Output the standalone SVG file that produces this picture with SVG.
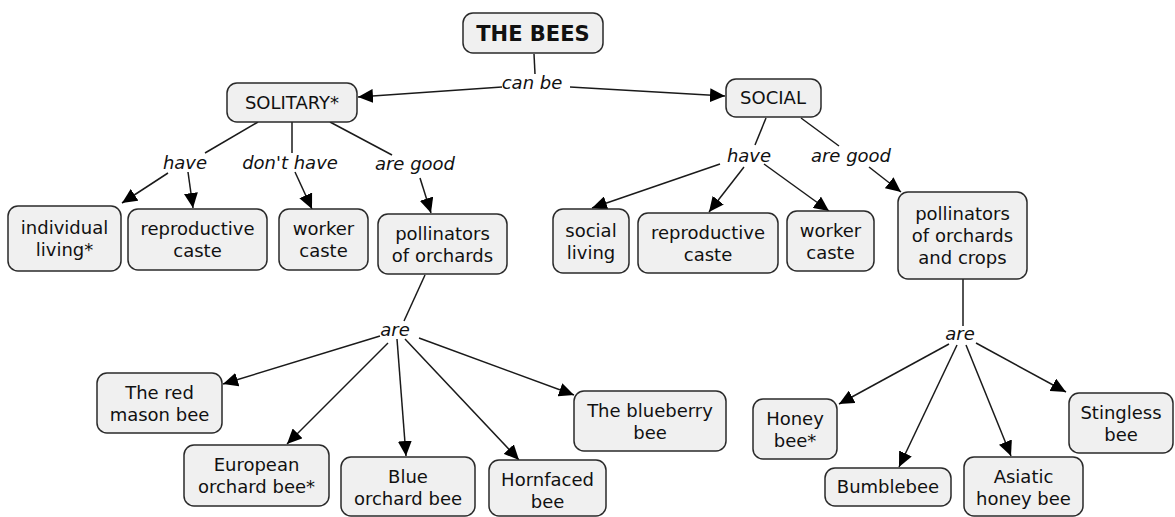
<svg xmlns="http://www.w3.org/2000/svg" width="1175" height="517" viewBox="0 0 1175 517">
<style>
.n rect{fill:#f0f0f0;stroke:#2a2a2a;stroke-width:1.5}
.n text{font-family:"DejaVu Sans",Verdana,sans-serif;font-size:18px;fill:#111;text-anchor:middle}
.t text{font-weight:bold;font-size:21px}
.lbl{font-family:"DejaVu Sans",Verdana,sans-serif;font-size:18px;font-style:italic;fill:#111;text-anchor:middle}
#connectors line{stroke:#1a1a1a;stroke-width:1.5;fill:none}
#connectors line.a{marker-end:url(#ah)}
</style>
<defs>
<marker id="ah" markerUnits="userSpaceOnUse" markerWidth="16" markerHeight="14" refX="15" refY="7" orient="auto">
<path d="M0,0 L15,7 L0,14 z" fill="#000"/>
</marker>
</defs>
<rect width="1175" height="517" fill="#fff"/>
<g id="connectors">
<line x1="534" y1="54" x2="535" y2="74"/>
<line class="a" x1="502" y1="87" x2="358" y2="97"/>
<line class="a" x1="570" y1="87" x2="725" y2="96"/>
<line x1="258" y1="122" x2="205" y2="153"/>
<line x1="292" y1="122" x2="292" y2="153"/>
<line x1="330" y1="122" x2="392" y2="155"/>
<line class="a" x1="168" y1="173" x2="122" y2="203"/>
<line class="a" x1="188" y1="172" x2="193" y2="208"/>
<line class="a" x1="295" y1="172" x2="312" y2="209"/>
<line class="a" x1="420" y1="178" x2="431" y2="213"/>
<line x1="766" y1="118" x2="755" y2="145"/>
<line x1="801" y1="118" x2="839" y2="146"/>
<line class="a" x1="720" y1="164" x2="592" y2="208"/>
<line class="a" x1="744" y1="167" x2="709" y2="212"/>
<line class="a" x1="764" y1="164" x2="829" y2="211"/>
<line class="a" x1="869" y1="167" x2="901" y2="192"/>
<line x1="425" y1="275" x2="404" y2="321"/>
<line class="a" x1="380" y1="336" x2="223" y2="384"/>
<line class="a" x1="388" y1="343" x2="287" y2="444"/>
<line class="a" x1="397" y1="339" x2="406" y2="456"/>
<line class="a" x1="405" y1="339" x2="519" y2="460"/>
<line class="a" x1="419" y1="338" x2="574" y2="395"/>
<line x1="963" y1="279" x2="963" y2="326"/>
<line class="a" x1="949" y1="344" x2="839" y2="404"/>
<line class="a" x1="957" y1="345" x2="899" y2="467"/>
<line class="a" x1="966" y1="345" x2="1011" y2="456"/>
<line class="a" x1="976" y1="343" x2="1066" y2="392"/>
</g>
<g id="labels">
<text class="lbl" x="532" y="89">can be</text>
<text class="lbl" x="185" y="169">have</text>
<text class="lbl" x="290" y="169">don't have</text>
<text class="lbl" x="415" y="170">are good</text>
<text class="lbl" x="749" y="162">have</text>
<text class="lbl" x="851" y="162">are good</text>
<text class="lbl" x="395" y="336">are</text>
<text class="lbl" x="960" y="340">are</text>
</g>
<g id="n-bees" class="n t"><rect x="463" y="13" width="140" height="40" rx="10"/><text x="533" y="41">THE BEES</text></g>
<g id="n-solitary" class="n"><rect x="227" y="83" width="130" height="39" rx="10"/><text x="292" y="109">SOLITARY*</text></g>
<g id="n-social" class="n"><rect x="726" y="79" width="95" height="38" rx="10"/><text x="773" y="104">SOCIAL</text></g>
<g id="n-indiv" class="n"><rect x="8" y="206" width="113" height="65" rx="10"/><text x="64.5" y="234">individual</text><text x="64.5" y="256">living*</text></g>
<g id="n-repro1" class="n"><rect x="128" y="209" width="139" height="61" rx="10"/><text x="197.5" y="235">reproductive</text><text x="197.5" y="257">caste</text></g>
<g id="n-worker1" class="n"><rect x="279" y="209" width="89" height="61" rx="10"/><text x="323.5" y="235">worker</text><text x="323.5" y="257">caste</text></g>
<g id="n-poll1" class="n"><rect x="378" y="214" width="129" height="60" rx="10"/><text x="442.5" y="239.5">pollinators</text><text x="442.5" y="261.5">of orchards</text></g>
<g id="n-socliv" class="n"><rect x="553" y="209" width="76" height="64" rx="10"/><text x="591" y="236.5">social</text><text x="591" y="258.5">living</text></g>
<g id="n-repro2" class="n"><rect x="638" y="213" width="140" height="60" rx="10"/><text x="708" y="238.5">reproductive</text><text x="708" y="260.5">caste</text></g>
<g id="n-worker2" class="n"><rect x="787" y="211" width="87" height="60" rx="10"/><text x="830.5" y="236.5">worker</text><text x="830.5" y="258.5">caste</text></g>
<g id="n-poll2" class="n"><rect x="898" y="192" width="129" height="87" rx="10"/><text x="962.5" y="220">pollinators</text><text x="962.5" y="242">of orchards</text><text x="962.5" y="264">and crops</text></g>
<g id="n-redmason" class="n"><rect x="97" y="373" width="125" height="60" rx="10"/><text x="159.5" y="398.5">The red</text><text x="159.5" y="420.5">mason bee</text></g>
<g id="n-european" class="n"><rect x="184" y="445" width="145" height="61" rx="10"/><text x="256.5" y="471">European</text><text x="256.5" y="493">orchard bee*</text></g>
<g id="n-blue" class="n"><rect x="341" y="457" width="134" height="59" rx="10"/><text x="408" y="483">Blue</text><text x="408" y="505">orchard bee</text></g>
<g id="n-horn" class="n"><rect x="489" y="460" width="117" height="56" rx="10"/><text x="547.5" y="486">Hornfaced</text><text x="547.5" y="508">bee</text></g>
<g id="n-blueberry" class="n"><rect x="574" y="391" width="152" height="60" rx="10"/><text x="650" y="416.5">The blueberry</text><text x="650" y="438.5">bee</text></g>
<g id="n-honey" class="n"><rect x="753" y="399" width="84" height="60" rx="10"/><text x="795" y="424.5">Honey</text><text x="795" y="446.5">bee*</text></g>
<g id="n-bumble" class="n"><rect x="825" y="468" width="126" height="38" rx="10"/><text x="888" y="493">Bumblebee</text></g>
<g id="n-asiatic" class="n"><rect x="964" y="457" width="119" height="59" rx="10"/><text x="1023.5" y="483">Asiatic</text><text x="1023.5" y="505">honey bee</text></g>
<g id="n-stingless" class="n"><rect x="1069" y="393" width="104" height="60" rx="10"/><text x="1121" y="418.5">Stingless</text><text x="1121" y="440.5">bee</text></g>
</svg>
